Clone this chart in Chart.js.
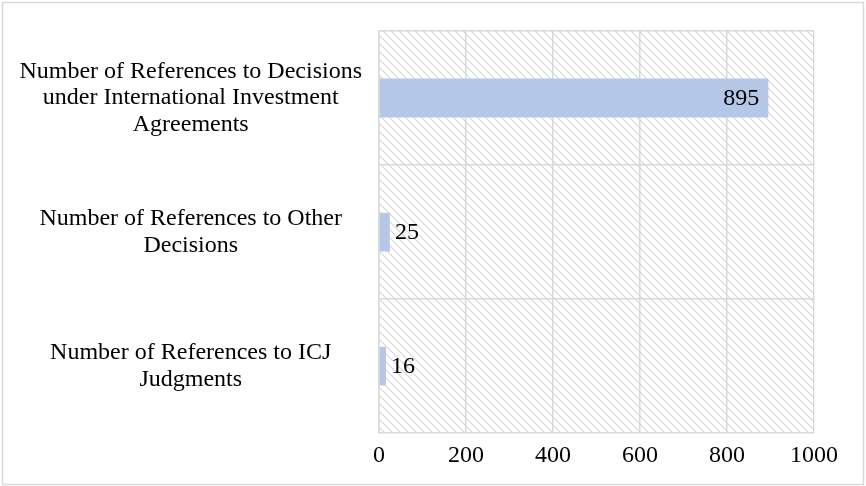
<!DOCTYPE html>
<html>
<head>
<meta charset="utf-8">
<script src="https://cdn.jsdelivr.net/npm/chart.js@4/dist/chart.umd.min.js"></script>
<style>
html,body{margin:0;padding:0;background:#fff;}
#wrap{width:866px;height:486px;position:relative;}
</style>
</head>
<body>
<div id="wrap"><canvas id="c" width="866" height="486"></canvas></div>
<script>
const categories = [
  ["Number of References to Decisions", "under International Investment", "Agreements"],
  ["Number of References to Other", "Decisions"],
  ["Number of References to ICJ", "Judgments"]
];
const values = [895, 25, 16];
const tickValues = [0, 200, 400, 600, 800, 1000];

const FONT = '"Liberation Serif", "Times New Roman", serif';

function makePattern() {
  const s = 8;
  const p = document.createElement('canvas');
  p.width = s; p.height = s;
  const g = p.getContext('2d');
  g.fillStyle = '#ffffff';
  g.fillRect(0, 0, s, s);
  g.strokeStyle = '#d6d6d6';
  g.lineWidth = 1.1;
  g.beginPath();
  g.moveTo(-1, -1); g.lineTo(s + 1, s + 1);
  g.moveTo(-1, s - 1); g.lineTo(1, s + 1);
  g.moveTo(s - 1, -1); g.lineTo(s + 1, 1);
  g.stroke();
  return p;
}

const bgPlugin = {
  id: 'bg',
  beforeDraw(chart) {
    const ctx = chart.ctx;
    const a = chart.chartArea;
    ctx.save();
    ctx.fillStyle = '#fff';
    ctx.fillRect(0, 0, chart.width, chart.height);
    ctx.strokeStyle = '#d9d9d9';
    ctx.lineWidth = 1.5;
    ctx.strokeRect(2.5, 2.5, chart.width - 5, chart.height - 4);
    ctx.fillStyle = ctx.createPattern(makePattern(), 'repeat');
    ctx.fillRect(a.left, a.top, a.right - a.left, a.bottom - a.top);
    ctx.restore();
  }
};

const labelPlugin = {
  id: 'vals',
  afterDatasetsDraw(chart) {
    const ctx = chart.ctx;
    const meta = chart.getDatasetMeta(0);
    ctx.save();
    ctx.font = '24px ' + FONT;
    ctx.fillStyle = '#000';
    ctx.textBaseline = 'middle';
    meta.data.forEach((bar, i) => {
      const v = values[i];
      const txt = String(v);
      const w = ctx.measureText(txt).width;
      if (bar.x - bar.base > w + 20) {
        ctx.textAlign = 'right';
        ctx.fillText(txt, bar.x - 9, bar.y + 1);
      } else {
        ctx.textAlign = 'left';
        ctx.fillText(txt, bar.x + 5, bar.y + 1);
      }
    });
    ctx.restore();
  }
};

new Chart(document.getElementById('c'), {
  type: 'bar',
  data: {
    labels: categories,
    datasets: [{
      data: values,
      backgroundColor: '#b4c7e7',
      borderWidth: 0,
      categoryPercentage: 1,
      barPercentage: 0.29
    }]
  },
  options: {
    indexAxis: 'y',
    responsive: false,
    animation: false,
    devicePixelRatio: 1,
    layout: { padding: { top: 31, right: 52, bottom: 8, left: 0 } },
    plugins: { legend: { display: false }, tooltip: { enabled: false } },
    scales: {
      x: {
        min: 0, max: 1000,
        afterBuildTicks(axis) { axis.ticks = tickValues.map(v => ({ value: v })); },
        afterFit(axis) { axis.paddingLeft = 0; axis.paddingRight = 0; },
        grid: { color: '#d9d9d9', lineWidth: 1.5, drawTicks: false },
        border: { display: false },
        ticks: {
          color: '#000',
          padding: 8,
          callback: (v) => String(v),
          font: { family: FONT, size: 24, lineHeight: 1.2 },
          maxRotation: 0
        }
      },
      y: {
        grid: { color: '#d9d9d9', lineWidth: 1.5, drawTicks: false, offset: true },
        border: { display: true, color: '#d9d9d9', width: 1.5 },
        afterFit(axis) { axis.width = 379; axis.paddingTop = 0; axis.paddingBottom = 0; },
        ticks: {
          color: '#000',
          padding: 17,
          crossAlign: 'center',
          font: { family: FONT, size: 24, lineHeight: 1.1 }
        }
      }
    }
  },
  plugins: [bgPlugin, labelPlugin]
});
</script>
</body>
</html>
